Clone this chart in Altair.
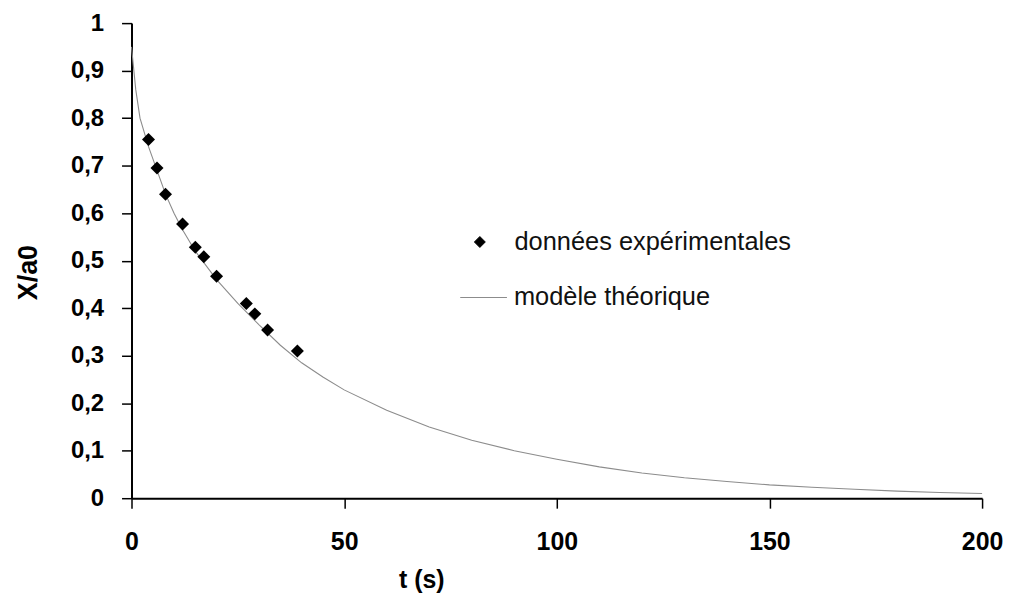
import altair as alt
import pandas as pd

exp_t = [4, 6, 8, 12, 15, 17, 20, 27, 29, 32, 39]
exp_x = [0.755, 0.695, 0.64, 0.577, 0.528, 0.508, 0.467, 0.41, 0.388, 0.354, 0.31]

# Theoretical model curve
model_t = [0, 1, 2, 4, 6, 8, 10, 12, 15, 20, 25, 30, 35, 40, 45, 50, 60, 70, 80,
           90, 100, 110, 120, 130, 140, 150, 160, 170, 180, 190, 200]
model_x = [0.95, 0.86, 0.80, 0.74, 0.69, 0.64, 0.60, 0.565, 0.52, 0.46, 0.41, 0.365,
           0.322, 0.285, 0.255, 0.228, 0.185, 0.150, 0.122, 0.100, 0.082, 0.066,
           0.053, 0.043, 0.035, 0.028, 0.023, 0.019, 0.015, 0.012, 0.010]

series = ["données expérimentales", "modèle théorique"]
colors = ["#000000", "#8c8c8c"]
x_ticks = [0, 50, 100, 150, 200]
y_ticks = [0, 0.1, 0.2, 0.3, 0.4, 0.5, 0.6, 0.7, 0.8, 0.9, 1]

exp_df = pd.DataFrame({"t": exp_t, "v": exp_x, "serie": series[0]})
model_df = pd.DataFrame({"t": model_t, "v": model_x, "serie": series[1]})

FONT = "Liberation Sans"

x_enc = alt.X("t:Q", scale=alt.Scale(domain=[0, 200], nice=False),
              axis=alt.Axis(title="t (s)", values=x_ticks, labelPadding=22,
                            labelFontSize=25, titlePadding=13, titleFontSize=25,
                            titleX=291))
y_enc = alt.Y("v:Q", scale=alt.Scale(domain=[0, 1], nice=False),
              axis=alt.Axis(title="X/a0", values=y_ticks, labelPadding=18,
                            labelFontSize=24, titlePadding=28, titleFontSize=27,
                            titleY=250,
                            labelExpr="replace(format(datum.value, '.1~f'), '.', ',')"))

common_legend = dict(title=None, orient="none", direction="vertical",
                     labelFont=FONT, labelFontSize=25.5, labelColor="#111111",
                     labelFontWeight="normal", padding=0, labelLimit=0)

legend_pts = alt.Legend(legendX=337, legendY=207, symbolType="diamond",
                        symbolSize=120, symbolFillColor="#000000",
                        symbolStrokeColor="#000000", symbolStrokeWidth=1,
                        labelOffset=22, **common_legend)
legend_line = alt.Legend(legendX=329, legendY=251, symbolType="stroke",
                         symbolSize=2200, symbolStrokeColor="#8c8c8c",
                         symbolStrokeWidth=1.2, labelOffset=6, **common_legend)

line = alt.Chart(model_df).mark_line(strokeWidth=1.1).encode(
    x=x_enc, y=y_enc,
    color=alt.Color("serie:N", scale=alt.Scale(domain=[series[1]], range=[colors[1]]),
                    legend=legend_line))

points = alt.Chart(exp_df).mark_point(shape="diamond", filled=True, size=170,
                                      opacity=1).encode(
    x=x_enc, y=y_enc,
    color=alt.Color("serie:N", scale=alt.Scale(domain=[series[0]], range=[colors[0]]),
                    legend=legend_pts))

chart = alt.layer(line, points).resolve_scale(color="independent").properties(
    width=854, height=477,
    padding={"left": 6, "top": 2, "right": 0, "bottom": 0},
    background="white",
).configure_view(stroke=None).configure_axis(
    grid=False, domainColor="#000000", domainWidth=2, tickColor="#000000",
    tickWidth=1.5, tickSize=10, labelFont=FONT,
    labelFontWeight="bold", labelColor="#000000", titleFont=FONT,
    titleFontWeight="bold", titleColor="#000000",
    labelFlush=False, labelOverlap=False,
)

chart.save("out.html", embed_options={"renderer": "svg", "actions": False})
